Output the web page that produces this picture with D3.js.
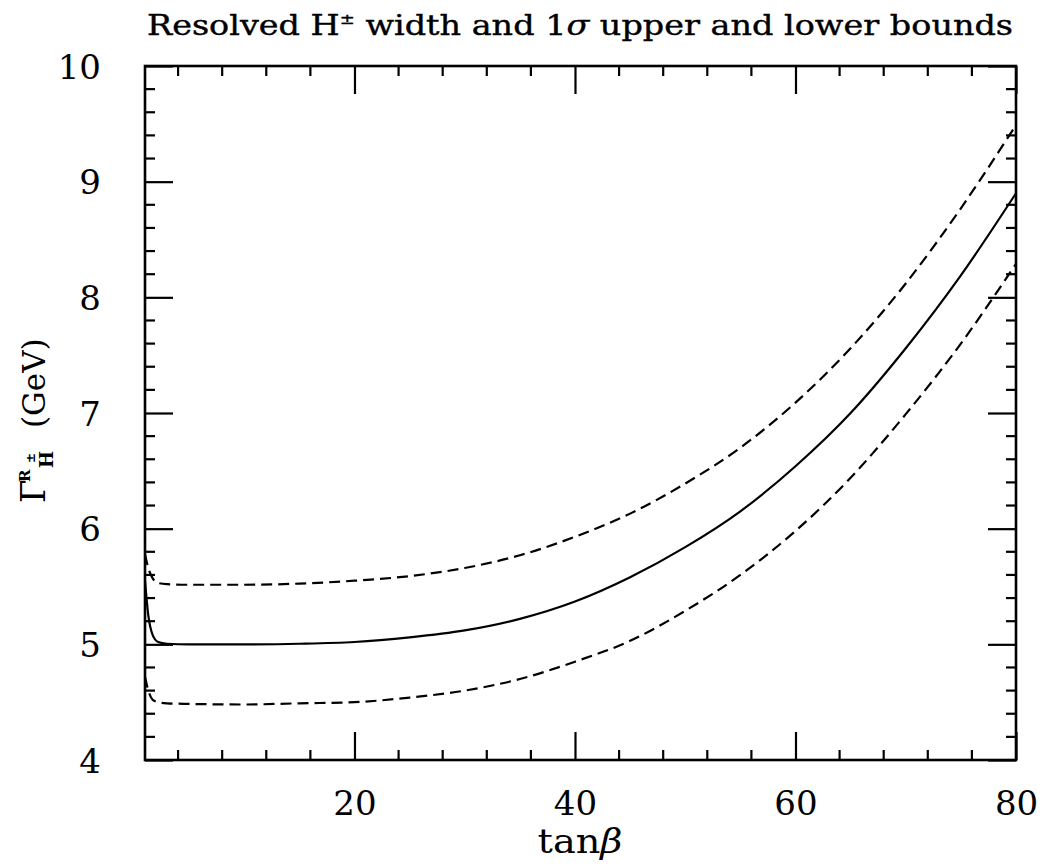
<!DOCTYPE html>
<html>
<head>
<meta charset="utf-8">
<script src="https://cdn.jsdelivr.net/npm/d3@7"></script>
<style>
  html, body { margin: 0; padding: 0; background: #fff; }
  svg { display: block; }
  text { font-family: "DejaVu Serif", serif; fill: #000; }
</style>
</head>
<body>
<script>
// ---- data ----
const tanBeta = [1, 1.3, 1.7, 2.2, 3, 5, 10, 15, 20, 25, 30, 35, 40, 45, 50, 55, 60, 65, 70, 75, 80];
const widthCentral = [5.55, 5.25, 5.08, 5.02, 5.005, 5.0, 5.0, 5.005, 5.02, 5.06, 5.12, 5.22, 5.37, 5.58, 5.84, 6.15, 6.54, 7.00, 7.56, 8.19, 8.90];
const widthUpper   = [5.78, 5.66, 5.57, 5.53, 5.52, 5.515, 5.515, 5.525, 5.55, 5.59, 5.66, 5.77, 5.93, 6.13, 6.39, 6.70, 7.09, 7.56, 8.12, 8.77, 9.49];
const widthLower   = [4.72, 4.60, 4.52, 4.50, 4.49, 4.485, 4.48, 4.49, 4.50, 4.54, 4.60, 4.70, 4.85, 5.03, 5.29, 5.60, 5.98, 6.44, 6.99, 7.60, 8.29];
const xMajorTicks = [20, 40, 60, 80];
const xMinorTicks = [4, 8, 12, 16, 24, 28, 32, 36, 44, 48, 52, 56, 64, 68, 72, 76];
const yMajorTicks = [4, 5, 6, 7, 8, 9, 10];
const yMinorTicks = d3.range(4.2, 10, 0.2).filter(v => Math.abs(v - Math.round(v)) > 0.05);

const W = 1043, H = 867;
const L = 145, R = 1016, T = 66, B = 760;

const svg = d3.select("body").append("svg").attr("width", W).attr("height", H);

const x = d3.scaleLinear().domain([1, 80]).range([L, R]);
const y = d3.scaleLinear().domain([4, 10]).range([B, T]);

const major = 28, minor = 10;
const tickStroke = 2.2;

// bottom axis
const gB = svg.append("g").attr("transform", `translate(0,${B})`)
  .call(d3.axisBottom(x).tickValues(xMajorTicks).tickSizeInner(-major).tickSizeOuter(0).tickPadding(24 + major).tickFormat(d3.format("d")));
gB.append("g").selectAll("line").data(xMinorTicks).join("line")
  .attr("x1", d => x(d)).attr("x2", d => x(d)).attr("y1", 0).attr("y2", -minor);
// top axis
const gT = svg.append("g").attr("transform", `translate(0,${T})`)
  .call(d3.axisTop(x).tickValues(xMajorTicks).tickSizeInner(-major).tickSizeOuter(0).tickFormat(""));
gT.append("g").selectAll("line").data(xMinorTicks).join("line")
  .attr("x1", d => x(d)).attr("x2", d => x(d)).attr("y1", 0).attr("y2", minor);
// left axis
const gL = svg.append("g").attr("transform", `translate(${L},0)`)
  .call(d3.axisLeft(y).tickValues(yMajorTicks).tickSizeInner(-major).tickSizeOuter(0).tickPadding(16 + major).tickFormat(d3.format("d")));
gL.append("g").selectAll("line").data(yMinorTicks).join("line")
  .attr("y1", d => y(d)).attr("y2", d => y(d)).attr("x1", 0).attr("x2", minor);
// right axis
const gR = svg.append("g").attr("transform", `translate(${R},0)`)
  .call(d3.axisRight(y).tickValues(yMajorTicks).tickSizeInner(-major).tickSizeOuter(0).tickFormat(""));
gR.append("g").selectAll("line").data(yMinorTicks).join("line")
  .attr("y1", d => y(d)).attr("y2", d => y(d)).attr("x1", 0).attr("x2", -minor);

svg.selectAll(".domain").remove();
svg.selectAll("g line").attr("stroke", "#000").attr("stroke-width", tickStroke);
svg.selectAll(".tick text").attr("font-family", "DejaVu Serif, serif").attr("font-size", 34).attr("fill", "#000");
gB.selectAll(".tick text").attr("dy", "0.1em");
gL.selectAll(".tick text").attr("dy", "0.36em");

// frame
svg.append("rect").attr("x", L).attr("y", T).attr("width", R - L).attr("height", B - T)
  .attr("fill", "none").attr("stroke", "#000").attr("stroke-width", 2.6);

// curves
const line = d3.line().x((d, i) => x(tanBeta[i])).y(d => y(d)).curve(d3.curveMonotoneX);
const plot = svg.append("g");
plot.append("path").attr("d", line(widthCentral)).attr("fill", "none").attr("stroke", "#000").attr("stroke-width", 2.2);
plot.append("path").attr("d", line(widthUpper)).attr("fill", "none").attr("stroke", "#000").attr("stroke-width", 2.2).attr("stroke-dasharray", "11,6");
plot.append("path").attr("d", line(widthLower)).attr("fill", "none").attr("stroke", "#000").attr("stroke-width", 2.2).attr("stroke-dasharray", "11,6");

// title
const title = svg.append("text").attr("x", 147).attr("y", 35).attr("font-size", 28)
  .attr("textLength", 866).attr("lengthAdjust", "spacingAndGlyphs").attr("stroke", "#000").attr("stroke-width", 0.4);
title.append("tspan").text("Resolved H");
title.append("tspan").attr("font-size", 15).attr("dy", -11).text("±");
title.append("tspan").attr("dy", 11).text(" width and 1");
title.append("tspan").attr("font-style", "italic").text("σ");
title.append("tspan").text(" upper and lower bounds");

// x label
const xl = svg.append("text").attr("x", 580).attr("y", 853).attr("text-anchor", "middle").attr("font-size", 34)
  .attr("textLength", 85).attr("lengthAdjust", "spacingAndGlyphs");
xl.append("tspan").text("tan");
xl.append("tspan").attr("font-style", "italic").text("β");

// y label
const yl = svg.append("g").attr("transform", "translate(45,503) rotate(-90)");
yl.append("text").attr("x", 0).attr("y", 0).attr("font-size", 34).text("Γ");
yl.append("text").attr("x", 21).attr("y", -15).attr("font-size", 15).attr("font-weight", "bold").text("R");
yl.append("text").attr("x", 35).attr("y", 8).attr("font-size", 18).attr("font-weight", "bold").text("H");
yl.append("text").attr("x", 40).attr("y", -10).attr("font-size", 12).attr("font-weight", "bold").text("±");
yl.append("text").attr("x", 75).attr("y", 0).attr("font-size", 31).text("(GeV)");
</script>
</body>
</html>
